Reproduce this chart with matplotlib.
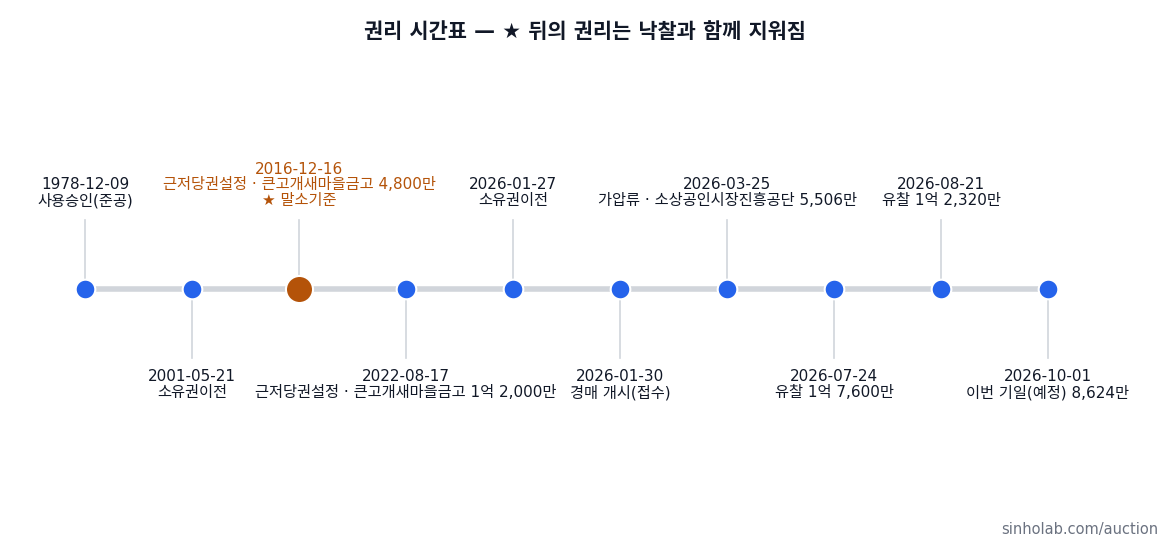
import matplotlib.pyplot as plt

plt.rcParams['font.family'] = ['DejaVu Sans', 'Noto Sans CJK KR']

dates = ["1978-12-09", "2001-05-21", "2016-12-16", "2022-08-17", "2026-01-27",
         "2026-01-30", "2026-03-25", "2026-07-24", "2026-08-21", "2026-10-01"]
events = ["사용승인(준공)", "소유권이전", "근저당권설정 · 큰고개새마을금고 4,800만\n★ 말소기준",
          "근저당권설정 · 큰고개새마을금고 1억 2,000만", "소유권이전", "경매 개시(접수)",
          "가압류 · 소상공인시장진흥공단 5,506만", "유찰 1억 7,600만", "유찰 1억 2,320만",
          "이번 기일(예정) 8,624만"]
base_idx = 2

BLUE = "#2563eb"
ORANGE = "#b45309"
GRAY = "#d1d5db"
TEXT = "#111827"

fig = plt.figure(figsize=(11.7, 5.46), dpi=100)
ax = fig.add_axes([0, 0, 1, 1])
# pixel-like coordinates: index -> x, y in pixels from top
ax.set_xlim(-85 / 107, (1170 - 85) / 107)
ax.set_ylim(546, 0)
ax.axis("off")

line_y = 289
n = len(dates)
ax.plot([0, n - 1], [line_y, line_y], color=GRAY, lw=4, zorder=1, solid_capstyle="round")

for i, (d, e) in enumerate(zip(dates, events)):
    up = i % 2 == 0
    col = ORANGE if i == base_idx else BLUE
    if up:
        ax.plot([i, i], [220, line_y], color=GRAY, lw=1.2, zorder=0)
        ax.text(i, 208, d + "\n" + e, ha="center", va="bottom", fontsize=11,
                color=ORANGE if i == base_idx else TEXT, linespacing=1.05)
    else:
        ax.plot([i, i], [line_y, 358], color=GRAY, lw=1.2, zorder=0)
        ax.text(i, 369, d + "\n" + e, ha="center", va="top", fontsize=11,
                color=TEXT, linespacing=1.05)
    ax.scatter([i], [line_y], s=380 if i == base_idx else 200, color=col,
               edgecolor="white", linewidth=1.5, zorder=3)

fig.text(0.5, 1 - 32 / 546, "권리 시간표 — ★ 뒤의 권리는 낙찰과 함께 지워짐", ha="center",
         va="center", fontsize=15, fontweight="bold", color=TEXT)
fig.text(1 - 12 / 1170, 1 - 537 / 546, "sinholab.com/auction", ha="right", va="bottom",
         fontsize=10.5, color="#6b7280")

fig.savefig("out.png", dpi=100)
